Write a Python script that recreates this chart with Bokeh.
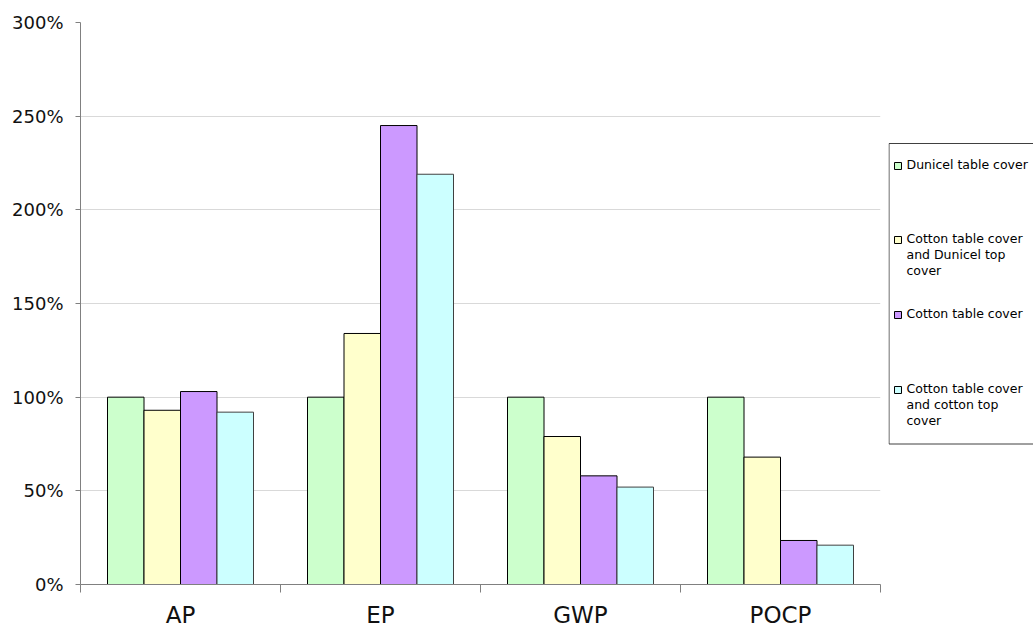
import textwrap
from bokeh.plotting import figure
from bokeh.layouts import row
from bokeh.models import Range1d, FixedTicker, PrintfTickFormatter, ColumnDataSource
from bokeh.core.properties import value
from bokeh.embed import file_html
from bokeh.resources import INLINE

categories = ["AP", "EP", "GWP", "POCP"]
series_names = [
    "Dunicel table cover",
    "Cotton table cover and Dunicel top cover",
    "Cotton table cover",
    "Cotton table cover and cotton top cover",
]
dunicel_table = [100, 100, 100, 100]
cotton_table_dunicel_top = [93, 134, 79, 68]
cotton_table = [103, 245, 58, 23.5]
cotton_table_cotton_top = [92, 219, 52, 21]
y_ticks = [0, 50, 100, 150, 200, 250, 300]

series_values = [dunicel_table, cotton_table_dunicel_top, cotton_table, cotton_table_cotton_top]
fills = ["#CCFFCC", "#FFFFCC", "#CC99FF", "#CCFFFF"]
lines = ["#000000", "#000000", "#000000", "#404040"]

FONT = "DejaVu Sans"
TOP, BOTTOM = 22, 46
FRAME_H = 562
H = TOP + FRAME_H + BOTTOM

p = figure(width=888, height=H, x_range=Range1d(0, 4), y_range=Range1d(0, 300),
           output_backend="svg", toolbar_location=None,
           min_border_left=80, min_border_right=8, min_border_top=TOP, min_border_bottom=BOTTOM)
p.outline_line_color = None
p.background_fill_color = "white"

bar_w = 0.1825
offsets = [-1.5 * bar_w, -0.5 * bar_w, 0.5 * bar_w, 1.5 * bar_w]
centers = [i + 0.5 for i in range(len(categories))]
for vals, off, fc, lc in zip(series_values, offsets, fills, lines):
    src = ColumnDataSource(dict(x=[c + off for c in centers], top=vals))
    p.vbar(x="x", top="top", bottom=0, width=bar_w, source=src,
           fill_color=fc, line_color=lc, line_width=1)

# y axis
p.yaxis.ticker = FixedTicker(ticks=y_ticks)
p.yaxis.formatter = PrintfTickFormatter(format="%d%%")
p.yaxis.axis_line_color = "#808080"
p.yaxis.major_tick_line_color = "#808080"
p.yaxis.major_tick_out = 5
p.yaxis.major_tick_in = 0
p.yaxis.minor_tick_line_color = None
p.yaxis.major_label_text_font = FONT
p.yaxis.major_label_text_font_size = "18px"
p.yaxis.major_label_text_color = "#111111"
p.yaxis.major_label_standoff = 12

# x axis
p.xaxis.ticker = FixedTicker(ticks=centers, minor_ticks=list(range(len(categories) + 1)))
p.xaxis.major_label_overrides = {c: name for c, name in zip(centers, categories)}
p.xaxis.axis_line_color = "#808080"
p.xaxis.major_tick_line_color = None
p.xaxis.minor_tick_line_color = "#808080"
p.xaxis.minor_tick_out = 8
p.xaxis.minor_tick_in = 0
p.xaxis.major_label_text_font = FONT
p.xaxis.major_label_text_font_size = "23px"
p.xaxis.major_label_text_color = "#111111"
p.xaxis.major_label_standoff = 9

p.xgrid.grid_line_color = None
p.ygrid.ticker = FixedTicker(ticks=y_ticks)
p.ygrid.grid_line_color = "#d9d9d9"

# legend panel (same vertical borders so the row aligns frames identically)
LW = 145
leg = figure(width=LW, height=H, x_range=Range1d(0, LW), y_range=Range1d(FRAME_H, 0),
             output_backend="svg", toolbar_location=None,
             min_border_left=0, min_border_right=0, min_border_top=TOP, min_border_bottom=BOTTOM)
leg.axis.visible = False
leg.grid.visible = False
leg.outline_line_color = None

box_top, box_bottom = 121, 421.5
leg.quad(left=[0.5], right=[LW + 5], top=[box_top], bottom=[box_bottom],
         fill_color="white", line_color="#404040", line_width=1)

item_y = [143.5, 217.5, 292.5, 367.5]
labels = ["\n ".join(textwrap.wrap(n, width=19)) for n in series_names]
leg.rect(x=[9.5] * 4, y=item_y, width=7, height=7, width_units="screen", height_units="screen",
         fill_color=fills, line_color="#000000", line_width=1)
leg.text(x=[18] * 4, y=[yy - 9 for yy in item_y], text=labels,
         text_font=value(FONT), text_font_size="12.5px", text_color="#000000",
         text_baseline="top", text_align="left", text_line_height=1.08)

layout = row(p, leg, spacing=0)
open("out.html", "w").write(file_html(layout, INLINE))
